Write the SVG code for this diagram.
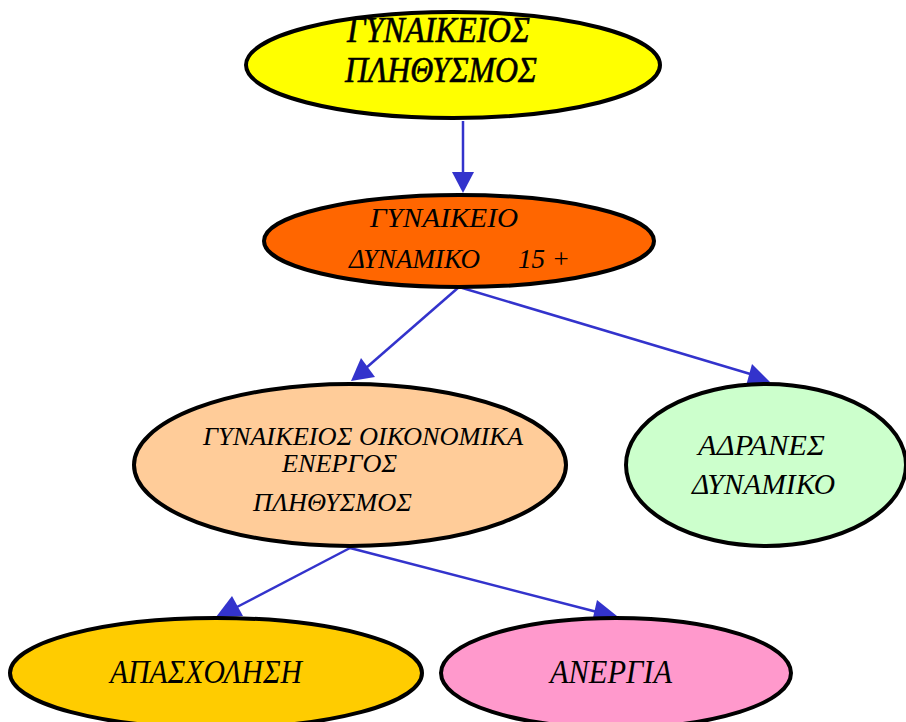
<svg xmlns="http://www.w3.org/2000/svg" width="906" height="722" viewBox="0 0 906 722">
<style>
.n{stroke:#000;stroke-width:4}
.t{font-family:"Liberation Serif","DejaVu Serif",serif;font-style:italic;fill:#000}
.c line{stroke:#3333cc;stroke-width:2.5}
.c polygon{fill:#3333cc}
</style>
<rect width="906" height="722" fill="#fff"/>
<g class="c" id="connectors">
<line x1="463" y1="121" x2="463" y2="174"/>
<polygon points="452,172 474,172 463,193"/>
<line x1="459" y1="287" x2="366" y2="368"/>
<polygon points="361,358 375,377 351,381"/>
<line x1="459" y1="287" x2="757" y2="376"/>
<polygon points="752,364 770,382 746,386"/>
<line x1="350" y1="548" x2="237" y2="607"/>
<polygon points="232,596 216,617 243,616"/>
<line x1="350" y1="548" x2="601" y2="613"/>
<polygon points="597,600 617,616 592,622"/>
</g>
<g id="n1">
<ellipse class="n" cx="453" cy="65" rx="207" ry="53" fill="#ffff00" stroke-width="5.5"/>
<text class="t" x="347" y="42" font-size="36" textLength="183" lengthAdjust="spacingAndGlyphs" stroke="#000" stroke-width="0.6">ΓΥΝΑΙΚΕΙΟΣ</text>
<text class="t" x="345" y="82" font-size="36" textLength="192" lengthAdjust="spacingAndGlyphs" stroke="#000" stroke-width="0.6">ΠΛΗΘΥΣΜΟΣ</text>
</g>
<g id="n2">
<ellipse class="n" cx="459" cy="241" rx="195" ry="46" fill="#ff6600"/>
<text class="t" x="370" y="227" font-size="28" textLength="148" lengthAdjust="spacingAndGlyphs">ΓΥΝΑΙΚΕΙΟ</text>
<text class="t" x="349" y="268" font-size="28" textLength="131" lengthAdjust="spacingAndGlyphs">ΔΥΝΑΜΙΚΟ</text>
<text class="t" x="518" y="268" font-size="28" textLength="52" lengthAdjust="spacingAndGlyphs">15 +</text>
</g>
<g id="n3">
<ellipse class="n" cx="350" cy="465" rx="216" ry="81" fill="#ffcc99"/>
<text class="t" x="203" y="445" font-size="25" textLength="320" lengthAdjust="spacingAndGlyphs">ΓΥΝΑΙΚΕΙΟΣ ΟΙΚΟΝΟΜΙΚΑ</text>
<text class="t" x="282" y="472" font-size="25" textLength="115" lengthAdjust="spacingAndGlyphs">ΕΝΕΡΓΟΣ</text>
<text class="t" x="253" y="511" font-size="25" textLength="159" lengthAdjust="spacingAndGlyphs">ΠΛΗΘΥΣΜΟΣ</text>
</g>
<g id="n4">
<ellipse class="n" cx="766" cy="465" rx="140" ry="81" fill="#ccffcc"/>
<text class="t" x="698" y="455" font-size="30" textLength="127" lengthAdjust="spacingAndGlyphs">ΑΔΡΑΝΕΣ</text>
<text class="t" x="692" y="494" font-size="30" textLength="143" lengthAdjust="spacingAndGlyphs">ΔΥΝΑΜΙΚΟ</text>
</g>
<g id="n5">
<ellipse class="n" cx="216" cy="673" rx="206" ry="55" fill="#ffcc00"/>
<text class="t" x="110" y="683" font-size="34" textLength="192" lengthAdjust="spacingAndGlyphs">ΑΠΑΣΧΟΛΗΣΗ</text>
</g>
<g id="n6">
<ellipse class="n" cx="616" cy="673" rx="175" ry="55" fill="#ff99cc"/>
<text class="t" x="550" y="683" font-size="34" textLength="122" lengthAdjust="spacingAndGlyphs">ΑΝΕΡΓΙΑ</text>
</g>
</svg>
